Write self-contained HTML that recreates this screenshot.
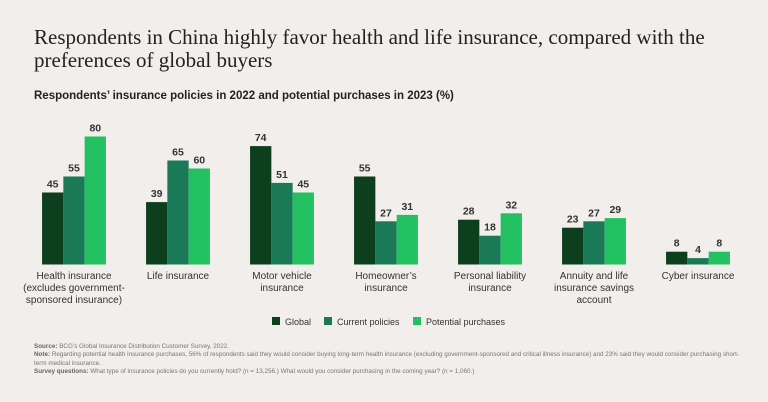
<!DOCTYPE html>
<html><head><meta charset="utf-8"><style>
body{margin:0;background:#f1eeeb;width:768px;height:402px;overflow:hidden;font-family:"Liberation Sans",sans-serif;}
.t{position:absolute;left:34px;top:26px;font-family:"Liberation Serif",serif;font-size:21px;line-height:23px;color:#222;width:720px}
.s{position:absolute;left:34px;top:90px;font-weight:bold;font-size:11.5px;color:#222}
.fn{position:absolute;left:34px;font-size:6.3px;color:#777;white-space:nowrap}
.fn b{color:#666}
</style></head><body>
<div class="t">Respondents in China highly favor health and life insurance, compared with the preferences of global buyers</div>
<div class="s">Respondents’ insurance policies in 2022 and potential purchases in 2023 (%)</div>
<svg id="c" width="768" height="402" style="position:absolute;left:0;top:0"></svg>
<div class="fn" style="top:343px"><b>Source:</b> BCG’s Global Insurance Distribution Customer Survey, 2022.</div>
<div class="fn" style="top:351px;white-space:normal;width:705px;line-height:8.5px"><b>Note:</b> Regarding potential health insurance purchases, 56% of respondents said they would consider buying long-term health insurance (excluding government-sponsored and critical illness insurance) and 23% said they would consider purchasing short-term medical insurance.</div>
<div class="fn" style="top:368px"><b>Survey questions:</b> What type of insurance policies do you currently hold? (n = 13,256.) What would you consider purchasing in the coming year? (n = 1,060.)</div>
<script>
const categories=[["Health insurance","(excludes government-","sponsored insurance)"],["Life insurance"],["Motor vehicle","insurance"],["Homeowner’s","insurance"],["Personal liability","insurance"],["Annuity and life","insurance savings","account"],["Cyber insurance"]];
const globalVals=[45,39,74,55,28,23,8];
const currentVals=[55,65,51,27,18,27,4];
const potentialVals=[80,60,45,31,32,29,8];
const seriesNames=["Global","Current policies","Potential purchases"];
const colors=["#0d3f1f","#1a7a58","#22c060"];
const svg=document.getElementById('c');const NS="http://www.w3.org/2000/svg";
const base=264.5,k=1.6,bw=21.3;
const y=v=>base-v*k;const cx=i=>74+i*104;
function mk(t,a){const e=document.createElementNS(NS,t);for(const n in a)e.setAttribute(n,a[n]);svg.appendChild(e);return e;}
[globalVals,currentVals,potentialVals].forEach((arr,s)=>{arr.forEach((v,i)=>{
const x=cx(i)-1.5*bw+s*bw;
const r=mk('rect',{x:x,y:y(v),width:bw,height:v*k,fill:colors[s]});


const t=mk('text',{x:x+bw/2,y:y(v)-5,'text-anchor':'middle','font-size':'10.5','font-weight':'bold',fill:'#333'});
t.textContent=v;


});});
categories.forEach((c,i)=>{c.forEach((l,j)=>{const t=mk('text',{x:cx(i),y:279+j*12,'text-anchor':'middle','font-size':'10',fill:'#333'});t.textContent=l;

});});
const lx=[272,324,413];
seriesNames.forEach((n,s)=>{mk('rect',{x:lx[s],y:317,width:8,height:8,fill:colors[s]});
const t=mk('text',{x:lx[s]+13,y:325,'font-size':'9',fill:'#333'});t.textContent=n;

});
</script>
</body></html>
